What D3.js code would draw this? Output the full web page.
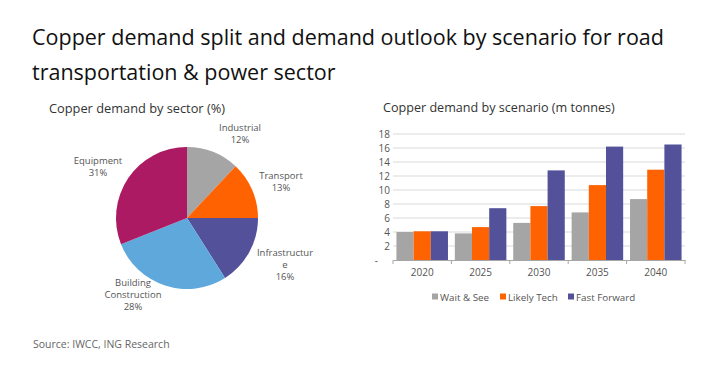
<!DOCTYPE html>
<html>
<head>
<meta charset="utf-8">
<script src="https://cdn.jsdelivr.net/npm/d3@7"></script>
<style>
  body { margin: 0; background: #fff; }
  svg text { font-family: 'Open Sans', sans-serif; }
</style>
</head>
<body>
<div id="viz"></div>
<script>
// pie data
const sectors = ['Industrial', 'Transport', 'Infrastructure', 'Building Construction', 'Equipment'];
const sectorShares = [12, 13, 16, 28, 31];
const sectorColors = ['#a5a5a5', '#ff6200', '#525199', '#5fa8dc', '#ab1a63'];

// bar data
const years = ['2020', '2025', '2030', '2035', '2040'];
const scenarios = ['Wait & See', 'Likely Tech', 'Fast Forward'];
const waitSee = [4.0, 3.8, 5.3, 6.8, 8.7];
const likelyTech = [4.1, 4.7, 7.7, 10.7, 12.9];
const fastForward = [4.1, 7.4, 12.8, 16.2, 16.5];
const yTicks = [0, 2, 4, 6, 8, 10, 12, 14, 16, 18];
const scenarioColors = ['#a5a5a5', '#ff6200', '#525199'];

const svg = d3.select('#viz').append('svg')
    .attr('width', 726)
    .attr('height', 377);

// title
const title = svg.append('text')
    .style('font-size', '21.5px')
    .style('fill', '#111');
title.append('tspan').attr('x', 32).attr('y', 45)
    .text('Copper demand split and demand outlook by scenario for road');
title.append('tspan').attr('x', 32).attr('y', 80)
    .text('transportation & power sector');

// ---- pie ----
svg.append('text')
    .attr('x', 49).attr('y', 113)
    .style('font-size', '12.8px').style('fill', '#333')
    .text('Copper demand by sector (%)');

const pieG = svg.append('g').attr('transform', 'translate(187,218)');
const radius = 71;
const pie = d3.pie().sort(null)(sectorShares);
const arc = d3.arc().innerRadius(0).outerRadius(radius);

pieG.selectAll('path')
    .data(pie)
    .join('path')
    .attr('d', arc)
    .attr('fill', (d, i) => sectorColors[i]);

// label positions relative to pie center
const labelLines = [
    ['Industrial', '12%'],
    ['Transport', '13%'],
    ['Infrastructur', 'e', '16%'],
    ['Building', 'Construction', '28%'],
    ['Equipment', '31%']
];
const labelPos = [[53, -87], [94, -39], [98, 38], [-54, 68], [-89, -54]];

pieG.selectAll('.plabel')
    .data(labelLines)
    .join('text')
    .attr('class', 'plabel')
    .attr('text-anchor', 'middle')
    .style('font-size', '9.5px')
    .style('fill', '#555')
    .each(function(lines, i) {
        d3.select(this).selectAll('tspan')
            .data(lines)
            .join('tspan')
            .attr('x', labelPos[i][0])
            .attr('y', (l, j) => labelPos[i][1] + j * 12)
            .text(l => l);
    });

// ---- bars ----
svg.append('text')
    .attr('x', 383).attr('y', 112)
    .style('font-size', '12.6px').style('fill', '#333')
    .text('Copper demand by scenario (m tonnes)');

const plotL = 393, plotR = 685, plotT = 134, plotB = 260;

const x = d3.scaleBand().domain(years).range([plotL, plotR]).paddingInner(0).paddingOuter(0);
const x1 = d3.scaleBand().domain(scenarios).range([0, x.bandwidth()]).paddingOuter(0.2).paddingInner(0);
const y = d3.scaleLinear().domain([0, 18]).range([plotB, plotT]);

// grid
svg.append('g')
    .selectAll('line')
    .data(yTicks.slice(1))
    .join('line')
    .attr('x1', plotL).attr('x2', plotR)
    .attr('y1', d => y(d)).attr('y2', d => y(d))
    .attr('stroke', '#d9d9d9').attr('stroke-width', 1);

svg.append('g')
    .selectAll('text')
    .data(yTicks)
    .join('text')
    .attr('x', d => d === 0 ? 378 : 390)
    .attr('y', d => y(d) + 4)
    .attr('text-anchor', 'end')
    .style('font-size', '10px').style('fill', '#555')
    .text(d => d === 0 ? '-' : d);

const series = [waitSee, likelyTech, fastForward];
const groups = svg.append('g')
    .selectAll('g')
    .data(years)
    .join('g')
    .attr('transform', d => `translate(${x(d)},0)`);

groups.selectAll('rect')
    .data((d, i) => scenarios.map((s, k) => ({s: s, v: series[k][i], k: k})))
    .join('rect')
    .attr('x', d => x1(d.s))
    .attr('width', x1.bandwidth())
    .attr('y', d => y(d.v))
    .attr('height', d => y(0) - y(d.v))
    .attr('fill', d => scenarioColors[d.k]);

// x axis
const xAxis = svg.append('g')
    .attr('transform', `translate(0,${plotB})`)
    .call(d3.axisBottom(x).tickSize(0).tickPadding(9));
xAxis.select('.domain').attr('stroke', '#a6a6a6');
xAxis.selectAll('text')
    .style('font-size', '10px').style('fill', '#555')
    .style('font-family', "'Open Sans', sans-serif");

svg.append('g')
    .selectAll('line')
    .data(d3.range(years.length + 1))
    .join('line')
    .attr('x1', i => plotL + i * x.bandwidth())
    .attr('x2', i => plotL + i * x.bandwidth())
    .attr('y1', plotB).attr('y2', plotB + 4)
    .attr('stroke', '#a6a6a6');

// legend
const legendX = [432, 500, 568];
const legend = svg.append('g')
    .selectAll('g')
    .data(scenarios)
    .join('g')
    .attr('transform', (d, i) => `translate(${legendX[i]},297)`);
legend.append('rect')
    .attr('x', 0).attr('y', -3.5)
    .attr('width', 6).attr('height', 6)
    .attr('fill', (d, i) => scenarioColors[i]);
legend.append('text')
    .attr('x', 8).attr('y', 3.5)
    .style('font-size', '9.8px').style('fill', '#555')
    .text(d => d);

// source
svg.append('text')
    .attr('x', 33).attr('y', 348)
    .style('font-size', '10.5px').style('fill', '#666')
    .text('Source: IWCC, ING Research');
</script>
</body>
</html>
